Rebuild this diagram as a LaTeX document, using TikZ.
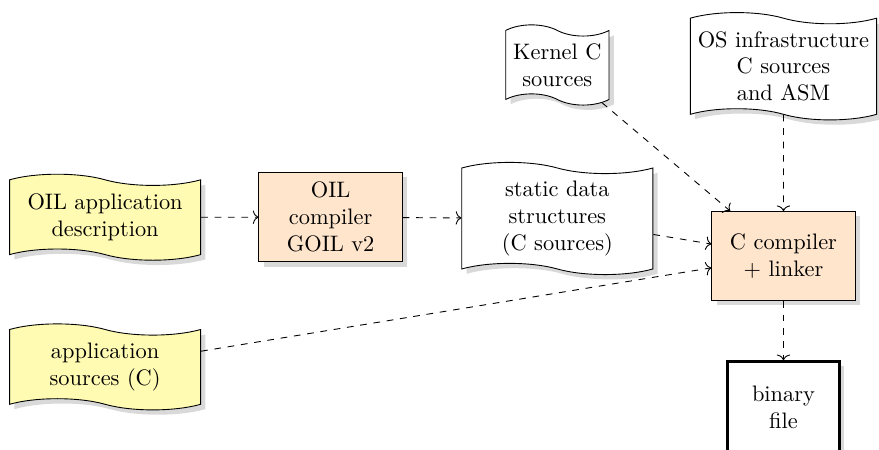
\documentclass[tikz,border=0pt]{standalone}
\usetikzlibrary{shapes.symbols,shadows,arrows.meta}
\begin{document}
\begin{tikzpicture}[
        doc/.style={tape, draw, align=center, fill=white,
          tape bend top=out and in, tape bend bottom=out and in,
          drop shadow={fill=black!15, opacity=1}},
        source/.style={doc, fill=yellow!30, minimum width=3cm, minimum height=1.35cm},
        tool/.style={rectangle, draw, align=center, fill=orange!20,
          minimum width=2.25cm, minimum height=1.4cm,
          drop shadow={fill=black!15, opacity=1}},
        result/.style={rectangle, draw, very thick, align=center, fill=white,
          minimum width=1.75cm, minimum height=1.45cm,
          drop shadow={fill=black!15, opacity=1}},
        flow/.style={-{To[length=2.5pt,width=6pt]}, dashed}
      ]
      \useasboundingbox (0,0) rectangle (13.80,-7.064);
      \node[source] (appdesc) at (1.65,-3.41) {OIL application\\description};
      \node[tool] (goil) at (5.19,-3.41) {OIL\\compiler\\GOIL v2};
      \node[doc, minimum width=3cm] (static) at (8.75,-3.43) {static data\\structures\\(C sources)};
      \node[doc] (kernel) at (8.75,-1.02) {Kernel C\\sources};
      \node[doc] (osinfra) at (12.30,-1.04) {OS infrastructure\\C sources\\and ASM};
      \node[tool] (cc) at (12.30,-4.02) {C compiler\\+ linker};
      \node[result] (binary) at (12.30,-6.40) {binary\\file};
      \node[source] (appsrc) at (1.65,-5.76) {application\\sources (C)};
      \draw[flow] (appdesc) -- (goil);
      \draw[flow] (goil) -- (static);
      \draw[flow] (static) -- (cc);
      \draw[flow] (kernel) -- (cc);
      \draw[flow] (osinfra) -- (cc);
      \draw[flow] (appsrc) -- (cc);
      \draw[flow] (cc) -- (binary);
      \end{tikzpicture}
\end{document}
